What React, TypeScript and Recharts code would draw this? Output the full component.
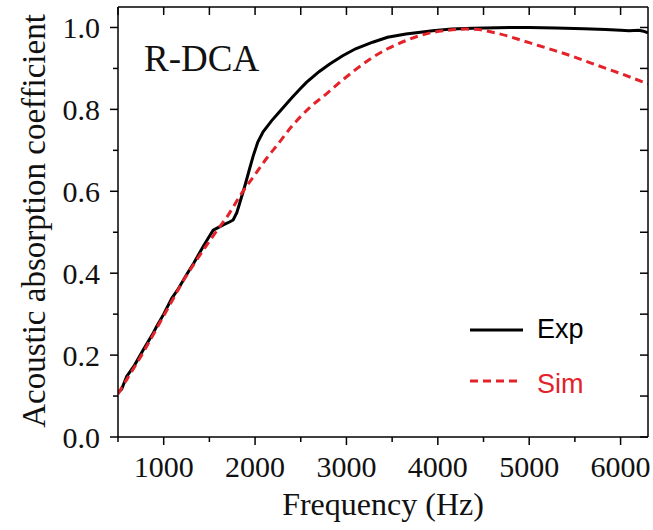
import React from 'react';
import { LineChart, Line, XAxis, YAxis, Legend, Label } from 'recharts';

// ---- data ----
const EXP_FREQ = [500, 540, 595, 680, 777, 886, 923, 1000, 1087, 1160, 1250, 1330, 1432, 1500, 1542, 1600, 1651, 1720, 1760, 1800, 1833, 1888, 1940, 1979, 2030, 2088, 2180, 2270, 2400, 2489, 2562, 2700, 2817, 2959, 3100, 3287, 3450, 3651, 3943, 4150, 4380, 4781, 5000, 5290, 5600, 5837, 6000, 6092, 6200, 6250, 6300];
const EXP_ALPHA = [0.108, 0.117, 0.148, 0.175, 0.213, 0.254, 0.27, 0.3, 0.338, 0.362, 0.396, 0.425, 0.465, 0.49, 0.505, 0.512, 0.518, 0.525, 0.53, 0.548, 0.572, 0.613, 0.655, 0.686, 0.72, 0.745, 0.772, 0.795, 0.828, 0.849, 0.866, 0.892, 0.911, 0.931, 0.948, 0.964, 0.976, 0.984, 0.992, 0.996, 0.998, 1.0, 1.0, 0.999, 0.997, 0.995, 0.993, 0.992, 0.993, 0.991, 0.987];

const SIM_FREQ = [500, 600, 700, 800, 900, 1000, 1100, 1200, 1360, 1500, 1615, 1700, 1833, 2016, 2125, 2250, 2400, 2600, 2781, 2959, 3100, 3287, 3450, 3651, 3800, 3943, 4100, 4307, 4450, 4563, 4750, 4926, 5100, 5290, 5470, 5655, 5840, 6019, 6150, 6300];
const SIM_ALPHA = [0.105, 0.142, 0.178, 0.216, 0.256, 0.296, 0.336, 0.376, 0.432, 0.478, 0.514, 0.54, 0.588, 0.646, 0.68, 0.715, 0.758, 0.805, 0.838, 0.872, 0.897, 0.927, 0.948, 0.968, 0.98, 0.988, 0.993, 0.996, 0.995, 0.99, 0.98, 0.968, 0.956, 0.943, 0.93, 0.915, 0.9, 0.886, 0.875, 0.862];

const X_TICKS = [500, 1000, 1500, 2000, 2500, 3000, 3500, 4000, 4500, 5000, 5500, 6000];
const X_MAJOR = [1000, 2000, 3000, 4000, 5000, 6000];
const Y_TICKS = [0, 0.1, 0.2, 0.3, 0.4, 0.5, 0.6, 0.7, 0.8, 0.9, 1.0];
const Y_MAJOR = [0, 0.2, 0.4, 0.6, 0.8, 1.0];

const SERIES_NAMES = ['Exp', 'Sim'];
const SERIES_COLORS = ['#000000', '#e3222a'];
const SERIES_DASH = ['', '8 5'];

const X_TITLE = 'Frequency (Hz)';
const Y_TITLE = 'Acoustic absorption coefficient';
const PANEL_LABEL = 'R-DCA';

const expData = EXP_FREQ.map((f, i) => ({ f, a: EXP_ALPHA[i] }));
const simData = SIM_FREQ.map((f, i) => ({ f, a: SIM_ALPHA[i] }));

const SERIF = '"Liberation Serif", "Times New Roman", serif';
const SANS = '"Liberation Sans", Arial, sans-serif';

const isMajor = (arr: number[], v: number) => arr.some((m) => Math.abs(m - v) < 1e-9);

const BottomTick = (props: any) => {
  const { x, y, payload } = props;
  const major = isMajor(X_MAJOR, payload.value);
  return (
    <g>
      <line x1={x} x2={x} y1={y} y2={y + (major ? 8 : 5)} stroke="#000" strokeWidth={1.5} />
      {major && (
        <text x={x} y={y + 40} textAnchor="middle" fontFamily={SERIF} fontSize={30} fill="#111">
          {payload.value}
        </text>
      )}
    </g>
  );
};

const TopTick = (props: any) => {
  const { x, y } = props;
  return <line x1={x} x2={x} y1={y} y2={y + 8} stroke="#000" strokeWidth={1.5} />;
};

const LeftTick = (props: any) => {
  const { x, y, payload } = props;
  const major = isMajor(Y_MAJOR, payload.value);
  return (
    <g>
      <line x1={x} x2={x - (major ? 8 : 5)} y1={y} y2={y} stroke="#000" strokeWidth={1.5} />
      {major && (
        <text x={x - 18} y={y + 11} textAnchor="end" fontFamily={SERIF} fontSize={30} fill="#111">
          {payload.value.toFixed(1)}
        </text>
      )}
    </g>
  );
};

const RightTick = (props: any) => {
  const { x, y } = props;
  return <line x1={x} x2={x - 8} y1={y} y2={y} stroke="#000" strokeWidth={1.5} />;
};

const renderLegend = () => (
  <svg width={160} height={95}>
    {SERIES_NAMES.map((name, i) => (
      <g key={name}>
        <line
          x1={5}
          x2={i === 0 ? 58 : 54}
          y1={18 + i * 51}
          y2={18 + i * 51}
          stroke={SERIES_COLORS[i]}
          strokeWidth={3}
          strokeDasharray={SERIES_DASH[i] || undefined}
        />
        <text x={72} y={26 + i * 55} fontFamily={SANS} fontSize={27} fill={SERIES_COLORS[i]}>
          {name}
        </text>
      </g>
    ))}
  </svg>
);

export default function App() {
  return (
    <div style={{ position: 'absolute', left: 0, top: 0, width: 653, height: 530, background: '#fff' }}>
      <LineChart width={653} height={530} margin={{ top: 6, right: 4, bottom: 0, left: 0 }}>
        <XAxis
          xAxisId="bottom"
          type="number"
          dataKey="f"
          domain={[500, 6300]}
          allowDataOverflow
          ticks={X_TICKS}
          interval={0}
          tickSize={0}
          tickMargin={0}
          tickLine={false}
          tick={<BottomTick />}
          height={93}
          axisLine={{ stroke: '#000', strokeWidth: 1.5 }}
        >
          <Label
            content={() => (
              <text x={383} y={515} textAnchor="middle" fontFamily={SERIF} fontSize={32} fill="#111">
                {X_TITLE}
              </text>
            )}
          />
        </XAxis>
        <XAxis
          xAxisId="top"
          orientation="top"
          type="number"
          dataKey="f"
          domain={[500, 6300]}
          allowDataOverflow
          ticks={X_TICKS}
          interval={0}
          tickSize={0}
          tickMargin={0}
          tickLine={false}
          tick={<TopTick />}
          height={1}
          axisLine={{ stroke: '#000', strokeWidth: 1.5 }}
        />
        <YAxis
          yAxisId="left"
          type="number"
          domain={[0, 1.05]}
          allowDataOverflow
          ticks={Y_TICKS}
          interval={0}
          tickSize={0}
          tickMargin={0}
          tickLine={false}
          tick={<LeftTick />}
          width={118}
          axisLine={{ stroke: '#000', strokeWidth: 1.5 }}
        >
          <Label
            content={() => (
              <text
                x={45}
                y={221}
                transform="rotate(-90 45 221)"
                textAnchor="middle"
                fontFamily={SERIF}
                fontSize={33}
                fill="#111"
              >
                {Y_TITLE}
              </text>
            )}
          />
          <Label
            content={() => (
              <text x={144} y={71} fontFamily={SERIF} fontSize={37} fill="#111">
                {PANEL_LABEL}
              </text>
            )}
          />
        </YAxis>
        <YAxis
          yAxisId="right"
          orientation="right"
          type="number"
          domain={[0, 1.05]}
          allowDataOverflow
          ticks={Y_TICKS}
          interval={0}
          tickSize={0}
          tickMargin={0}
          tickLine={false}
          tick={<RightTick />}
          width={1}
          axisLine={{ stroke: '#000', strokeWidth: 1.5 }}
        />
        <Line
          name={SERIES_NAMES[0]}
          data={expData}
          dataKey="a"
          xAxisId="bottom"
          yAxisId="left"
          type="linear"
          stroke={SERIES_COLORS[0]}
          strokeWidth={3}
          dot={false}
          activeDot={false}
          isAnimationActive={false}
        />
        <Line
          name={SERIES_NAMES[1]}
          data={simData}
          dataKey="a"
          xAxisId="bottom"
          yAxisId="left"
          type="monotone"
          stroke={SERIES_COLORS[1]}
          strokeWidth={3}
          strokeDasharray={SERIES_DASH[1]}
          dot={false}
          activeDot={false}
          isAnimationActive={false}
        />
        <Legend
          layout="horizontal"
          verticalAlign="middle"
          align="center"
          content={renderLegend}
          wrapperStyle={{ position: 'absolute', left: 465, top: 312, width: 160, height: 95 }}
        />
      </LineChart>
    </div>
  );
}
